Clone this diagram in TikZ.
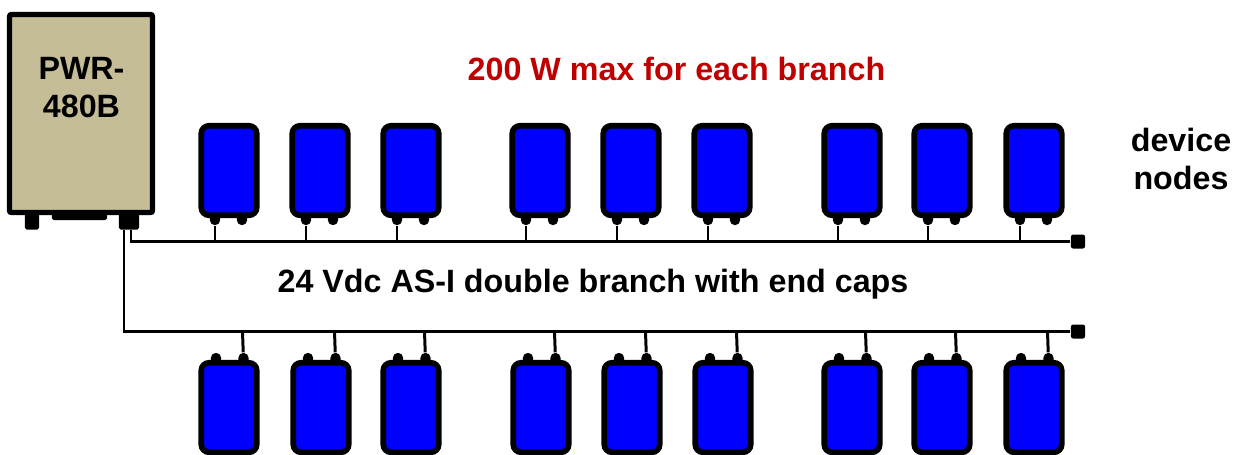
\documentclass[tikz,border=0pt]{standalone}
\usepackage{fontspec}
\setmainfont{Liberation Sans}
\usepackage{xcolor}
\usetikzlibrary{calc}
\definecolor{boxT}{RGB}{196,189,151}
\definecolor{devB}{RGB}{0,0,255}
\definecolor{capR}{RGB}{192,0,0}
\tikzset{
  devnode/.style={draw=black, line width=1.6pt, fill=devB, rounded corners=2.2pt,
    minimum width=0.555cm, minimum height=0.895cm, inner sep=0pt},
  pinnode/.style={fill=black, rounded corners=1.3pt, minimum width=0.1cm, minimum height=0.14cm, inner sep=0pt},
  footnode/.style={fill=black, inner sep=0pt, rounded corners=0.5pt},
  capnode/.style={fill=black, rounded corners=0.6pt, minimum size=0.14cm, inner sep=0pt},
  buswire/.style={line width=0.8pt},
  stubwire/.style={line width=0.85pt},
  txtnode/.style={font=\fontsize{9.17pt}{10.6pt}\selectfont\bfseries, align=center, inner sep=0pt}
}
\begin{document}
\begin{tikzpicture}[x=0.01cm, y=-0.01cm]
\useasboundingbox (0,0) rectangle (1235,454);
% ===== power supply with its feet =====
\node[footnode, minimum width=0.14cm, minimum height=0.17cm] (footL) at (32,221) {};
\node[footnode, minimum width=0.55cm, minimum height=0.08cm] (footM) at (79.5,216) {};
\node[footnode, minimum width=0.20cm, minimum height=0.17cm] (footR) at (129,221) {};
\node[draw=black, line width=1.5pt, fill=boxT, rounded corners=0.6pt, minimum width=1.43cm,
  minimum height=1.98cm, inner sep=0pt] (pwr) at (81,113.5) {};
\node[txtnode] (pwrname) at (81.5,87.5) {PWR-\\480B};
% ===== end caps and the two branches =====
\node[capnode] (capT) at (1078,241.5) {};
\node[capnode] (capB) at (1078,331.5) {};
\draw[buswire] ([xshift=0.02cm]footR.south) |- (capT);
\draw[buswire] ([xshift=-0.05cm]footR.south) |- (capB);
% ===== upper row of device nodes =====
\foreach \i/\px in {1/229, 2/320, 3/411, 4/540, 5/631, 6/722, 7/852, 8/942, 9/1034} {
  \node[pinnode] (tpa\i) at (\px-14,218) {};
  \node[pinnode] (tpb\i) at (\px+13,218) {};
  \node[devnode] (top\i) at (\px,170.5) {};
  \draw[stubwire] (tpa\i) -- (tpa\i |- capT);
}
% ===== lower row of device nodes =====
\foreach \i/\px in {1/229, 2/321, 3/411, 4/541, 5/632, 6/723, 7/852, 8/942, 9/1034} {
  \node[pinnode] (bpa\i) at (\px-13,360) {};
  \node[pinnode] (bpb\i) at (\px+14.5,360) {};
  \node[devnode] (bot\i) at (\px,407.5) {};
  \draw[stubwire] (bpb\i) -- ($(bpb\i |- capB)+(-1,0)$);
}
% ===== labels =====
\node[txtnode, text=capR] (maxlabel) at (676.5,68.5) {200 W max for each branch};
\node[txtnode] (branchlabel) at (593,284) {24 Vdc AS-I double branch with end caps};
\node[txtnode] (devlabel) at (1181,159) {device\\nodes};
\end{tikzpicture}
\end{document}
